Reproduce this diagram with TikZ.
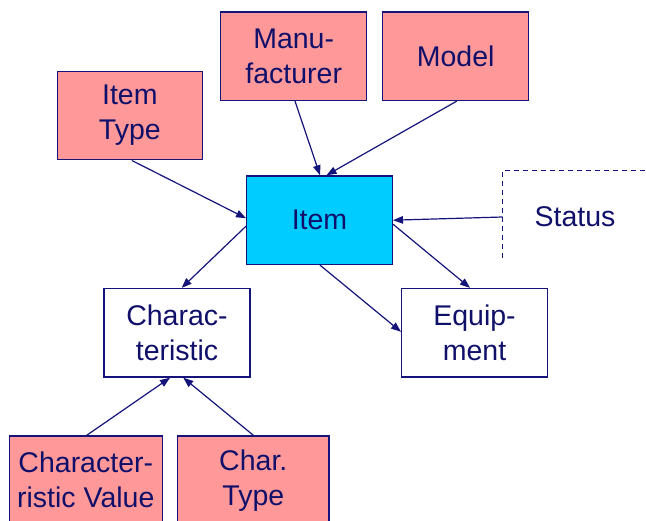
\documentclass[tikz,border=0pt]{standalone}
\usepackage{fontspec}
\setmainfont{Liberation Sans}
\usetikzlibrary{arrows.meta,calc}
\definecolor{navy}{HTML}{14147A}
\definecolor{txt}{HTML}{10106A}
\definecolor{pinkfill}{HTML}{FF9999}
\definecolor{cyanfill}{HTML}{00CCFF}
\tikzset{
  box/.style={draw=navy, line width=1.4pt, minimum width=146pt, minimum height=88.5pt,
    align=center, text=txt, inner sep=0pt,
    font=\fontsize{28.5}{35}\selectfont},
  pinkbox/.style={box, fill=pinkfill},
  whitebox/.style={box, fill=white},
  cyanbox/.style={box, fill=cyanfill},
  conn/.style={draw=navy, line width=1.2pt, -{Triangle[length=10pt,width=7.5pt]}},
  dashline/.style={draw=navy, line width=1.4pt, dash pattern=on 5pt off 4pt}
}
\begin{document}
\begin{tikzpicture}[x=1pt,y=-1pt]
\useasboundingbox (0,0) rectangle (646,521);
\clip (0,0) rectangle (646,521);
\fill[white] (0,0) rectangle (646,521);

\node[pinkbox] (mfr) at (293.7,56.2) {Manu-\\facturer};
\node[pinkbox] (model) at (455.7,56.2) {Model};
\node[pinkbox, minimum width=145pt] (itype) at (129.8,115.5) {Item\\Type};
\node[cyanbox, minimum width=145.6pt] (item) at (319.5,220.2) {Item};
\node[whitebox] (char) at (177,332.8) {Charac-\\teristic};
\node[whitebox, minimum width=145.6pt] (equip) at (474.5,332.8) {Equip-\\ment};
\node[pinkbox, minimum width=153pt] (cval) at (85.8,480.2) {Character-\\ristic Value};
\node[pinkbox, minimum width=151.3pt] (ctype) at (253.3,480.2) {Char.\\Type};

\node[text=txt, font=\fontsize{28.5}{35}\selectfont] (status) at (575,216.7) {Status};
\coordinate (statusL) at (502.7,217);
\draw[dashline] (502.7,258) -- (502.7,170.7) -- (650,170.7);

\draw[conn] ($(mfr.south)+(1.3,0)$) -- ($(item.north)+(0.5,0)$);
\draw[conn] ($(model.south)+(1,0)$) -- ($(item.north)+(7,0)$);
\draw[conn] ($(itype.south)+(2,0)$) -- ($(item.west)+(0,-2)$);
\draw[conn] (statusL) -- (item.east);
\draw[conn] ($(item.west)+(0,6)$) -- ($(char.north)+(4.7,0)$);
\draw[conn] ($(item.east)+(0,4)$) -- ($(equip.north)+(-4.5,0)$);
\draw[conn] ($(item.south)+(0.5,0)$) -- ($(equip.west)+(0,-1)$);
\draw[conn] ($(cval.north)+(1,0)$) -- ($(char.south)+(-7,0)$);
\draw[conn] (ctype.north) -- ($(char.south)+(6.3,0)$);
\end{tikzpicture}
\end{document}
